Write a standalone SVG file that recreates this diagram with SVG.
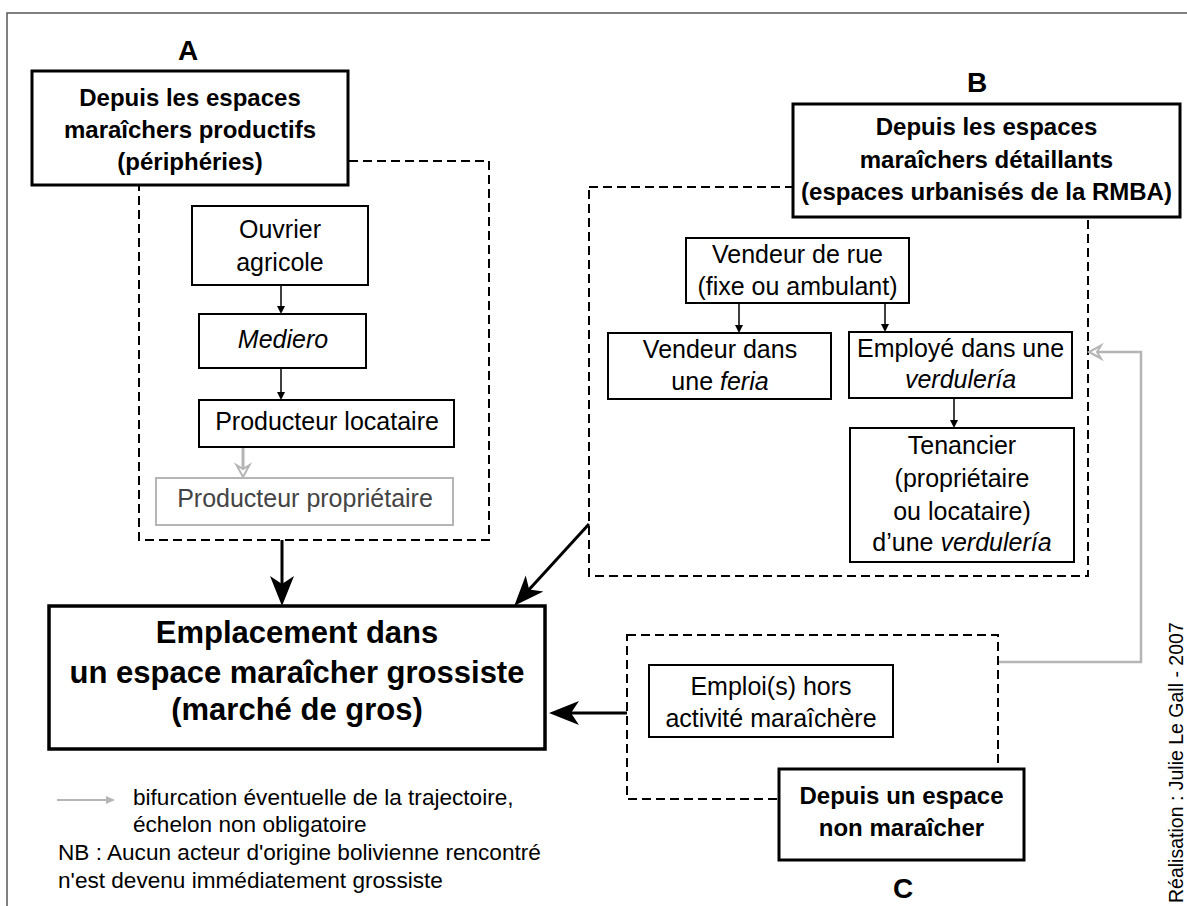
<svg xmlns="http://www.w3.org/2000/svg" width="1187" height="906" viewBox="0 0 1187 906">
<style>
text{font-family:"Liberation Sans",Arial,sans-serif;fill:#000}
.hd{font-weight:bold;font-size:24px;text-anchor:middle}
.big{font-weight:bold;font-size:31px;text-anchor:middle}
.let{font-weight:bold;font-size:28px;text-anchor:middle}
.nt{font-size:25px;text-anchor:middle}
.it{font-style:italic}
.lg{font-size:22.6px}
.box{fill:#fff;stroke:#000;stroke-width:2}
.hbox{fill:#fff;stroke:#000;stroke-width:3}
.dash{fill:none;stroke:#000;stroke-width:2;stroke-dasharray:9 5}
.thin{fill:none;stroke:#000;stroke-width:1.5}
.thick{fill:none;stroke:#000;stroke-width:3}
.gray{fill:none;stroke:#b5b5b5;stroke-width:2.5}
</style>
<defs>
<marker id="sm" markerUnits="userSpaceOnUse" markerWidth="20" markerHeight="20" viewBox="-10 -10 20 20" refX="0" refY="0" orient="auto" overflow="visible">
<path d="M5,0 L-3,-4 L-3,4 z" fill="#000"/>
</marker>
<marker id="bg" markerUnits="userSpaceOnUse" markerWidth="60" markerHeight="60" viewBox="-30 -30 60 60" refX="0" refY="0" orient="auto" overflow="visible">
<path d="M20,0 L-10,-12 L-2,0 L-10,12 z" fill="#000"/>
</marker>
<marker id="gy" markerUnits="userSpaceOnUse" markerWidth="30" markerHeight="30" viewBox="-15 -15 30 30" refX="0" refY="0" orient="auto" overflow="visible">
<path d="M8,0 L-4,-6.5 L0,0 L-4,6.5 z" fill="#fff" stroke="#b5b5b5" stroke-width="2" stroke-linejoin="miter"/>
</marker>
<marker id="gl" markerUnits="userSpaceOnUse" markerWidth="20" markerHeight="20" viewBox="-10 -10 20 20" refX="0" refY="0" orient="auto" overflow="visible">
<path d="M6,0 L-3,-4 L-3,4 z" fill="#b5b5b5"/>
</marker>
</defs>

<rect x="7" y="13" width="1200" height="920" fill="none" stroke="#555" stroke-width="1.5"/>

<g id="regions">
<rect x="139" y="161" width="350" height="379" class="dash"/>
<rect x="589" y="187" width="499" height="389" class="dash"/>
<rect x="627" y="635" width="371" height="164" class="dash"/>
</g>

<g id="connectors">
<line x1="281" y1="285" x2="281" y2="309" class="thin" marker-end="url(#sm)"/>
<line x1="281" y1="368" x2="281" y2="395" class="thin" marker-end="url(#sm)"/>
<line x1="739" y1="303" x2="739" y2="328" class="thin" marker-end="url(#sm)"/>
<line x1="885" y1="303" x2="885" y2="327" class="thin" marker-end="url(#sm)"/>
<line x1="954" y1="398" x2="954" y2="423" class="thin" marker-end="url(#sm)"/>
<line x1="243" y1="447" x2="243" y2="469" stroke="#b5b5b5" stroke-width="3" marker-end="url(#gy)"/>
<line x1="282" y1="540" x2="282" y2="586" class="thick" marker-end="url(#bg)"/>
<line x1="589" y1="524" x2="527.8" y2="590.9" class="thick" marker-end="url(#bg)"/>
<line x1="627" y1="713" x2="569" y2="713" class="thick" marker-end="url(#bg)"/>
<polyline points="999,662 1141,662 1141,352 1097,352" class="gray" marker-end="url(#gy)"/>
<line x1="57" y1="800" x2="109" y2="800" stroke="#b5b5b5" stroke-width="2" marker-end="url(#gl)"/>
</g>

<g id="label-A"><text x="188" y="60" class="let">A</text></g>
<g id="label-B"><text x="977" y="92" class="let">B</text></g>
<g id="label-C"><text x="903" y="898" class="let">C</text></g>

<g id="node-A">
<rect x="32" y="71" width="316" height="114" class="hbox"/>
<text x="190" y="106" class="hd">Depuis les espaces</text>
<text x="190" y="138" class="hd">maraîchers productifs</text>
<text x="190" y="170" class="hd">(périphéries)</text>
</g>

<g id="node-ouvrier">
<rect x="192" y="206" width="176" height="79" class="box"/>
<text x="280" y="238" class="nt">Ouvrier</text>
<text x="280" y="271" class="nt">agricole</text>
</g>

<g id="node-mediero">
<rect x="199" y="314" width="167" height="54" class="box"/>
<text x="283" y="348" class="nt it">Mediero</text>
</g>

<g id="node-prod-loc">
<rect x="199" y="400" width="255" height="47" class="box"/>
<text x="327" y="430" class="nt">Producteur locataire</text>
</g>

<g id="node-prod-prop">
<rect x="156" y="478" width="297" height="47" fill="#fff" stroke="#b5b5b5" stroke-width="2"/>
<text x="305" y="507" class="nt" style="fill:#444">Producteur propriétaire</text>
</g>

<g id="node-B">
<rect x="793" y="104" width="387" height="113" class="hbox"/>
<text x="986.5" y="135" class="hd">Depuis les espaces</text>
<text x="986.5" y="168" class="hd">maraîchers détaillants</text>
<text x="986.5" y="200" class="hd">(espaces urbanisés de la RMBA)</text>
</g>

<g id="node-vendeur-rue">
<rect x="686" y="238" width="223" height="65" class="box"/>
<text x="797.5" y="263" class="nt">Vendeur de rue</text>
<text x="797.5" y="295" class="nt">(fixe ou ambulant)</text>
</g>

<g id="node-feria">
<rect x="608" y="333" width="223" height="66" class="box"/>
<text x="720" y="358" class="nt">Vendeur dans</text>
<text x="720" y="390" class="nt">une <tspan class="it">feria</tspan></text>
</g>

<g id="node-employe">
<rect x="849" y="332" width="223" height="66" class="box"/>
<text x="960.5" y="357" class="nt">Employé dans une</text>
<text x="960.5" y="388" class="nt it">verdulería</text>
</g>

<g id="node-tenancier">
<rect x="850" y="428" width="224" height="134" class="box"/>
<text x="962" y="454" class="nt">Tenancier</text>
<text x="962" y="487" class="nt">(propriétaire</text>
<text x="962" y="520" class="nt">ou locataire)</text>
<text x="962" y="551" class="nt">d’une <tspan class="it">verdulería</tspan></text>
</g>

<g id="node-main">
<rect x="49" y="606" width="496" height="143" fill="#fff" stroke="#000" stroke-width="3.5"/>
<text x="297" y="643" class="big">Emplacement dans</text>
<text x="297" y="683" class="big">un espace maraîcher grossiste</text>
<text x="297" y="720" class="big">(marché de gros)</text>
</g>

<g id="node-emploi">
<rect x="649" y="665" width="244" height="72" class="box"/>
<text x="771" y="695" class="nt">Emploi(s) hors</text>
<text x="771" y="727" class="nt">activité maraîchère</text>
</g>

<g id="node-C">
<rect x="779" y="769" width="245" height="91" class="hbox"/>
<text x="901.5" y="804" class="hd">Depuis un espace</text>
<text x="901.5" y="836" class="hd">non maraîcher</text>
</g>

<g id="legend">
<text x="133" y="805" class="lg">bifurcation éventuelle de la trajectoire,</text>
<text x="133" y="832" class="lg">échelon non obligatoire</text>
<text x="58" y="860" class="lg">NB : Aucun acteur d'origine bolivienne rencontré</text>
<text x="58" y="888" class="lg">n'est devenu immédiatement grossiste</text>
</g>

<g id="credit">
<text transform="translate(1183,903) rotate(-90)" font-size="19.5">Réalisation : Julie Le Gall - 2007</text>
</g>
</svg>
